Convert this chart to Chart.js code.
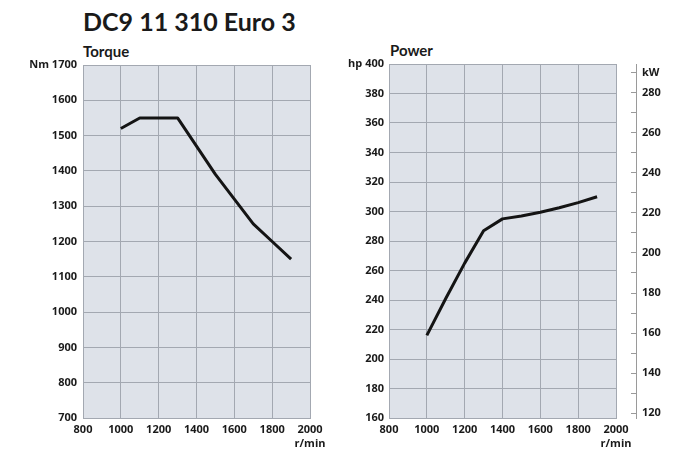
<!DOCTYPE html>
<html>
<head>
<meta charset="utf-8">
<script src="https://cdn.jsdelivr.net/npm/chart.js@4/dist/chart.umd.min.js"></script>
<style>
  html, body { margin: 0; padding: 0; background: #ffffff; }
  body { width: 679px; height: 452px; position: relative; overflow: hidden; font-family: Lato, "DejaVu Sans", sans-serif; }
  .t { position: absolute; font-weight: 700; color: #1a1a1a; line-height: 1; white-space: nowrap; }
  canvas { position: absolute; top: 0; }
</style>
</head>
<body>
<div class="t" id="mainTitle" style="left:83px; top:9px; font-size:25px;">DC9 11 310 Euro 3</div>
<div class="t" id="torqueTitle" style="left:83px; top:44px; font-size:15px;">Torque</div>
<div class="t" id="powerTitle" style="left:390px; top:43px; font-size:15px;">Power</div>
<canvas id="torque" width="340" height="452" style="left:0px;"></canvas>
<canvas id="power" width="339" height="452" style="left:340px;"></canvas>
<script>
// ---- data ----
const rpm = [1000, 1100, 1200, 1300, 1400, 1500, 1600, 1700, 1800, 1900];
const torqueNm = [1520, 1550, 1550, 1550, 1470, 1390, 1320, 1250, 1200, 1150];
const powerHp = [216, 241, 265, 287, 295, 297, 299.5, 302.5, 306, 310];

const rpmTicks = [800, 1000, 1200, 1400, 1600, 1800, 2000];
const torqueTicks = [700, 800, 900, 1000, 1100, 1200, 1300, 1400, 1500, 1600, 1700];
const hpTicks = [160, 180, 200, 220, 240, 260, 280, 300, 320, 340, 360, 380, 400];
const kwLabelTicks = [120, 140, 160, 180, 200, 220, 240, 260, 280];
const HP_TO_KW = 0.7355;

// ---- styling ----
const PLOT_BG = '#dee2e9';
const GRID = '#a3a8b1';
const TEXT = '#1a1a1a';
const LINE = '#141414';
const tickFont = { family: '"Open Sans"', size: 11, weight: 'bold', lineHeight: 1.35 };

const plotBg = {
  id: 'plotBg',
  beforeDraw(chart) {
    const { ctx, chartArea: a } = chart;
    ctx.save();
    ctx.fillStyle = PLOT_BG;
    ctx.fillRect(a.left, a.top, a.right - a.left, a.bottom - a.top);
    ctx.restore();
  }
};

function xScale() {
  return {
    type: 'linear',
    min: rpmTicks[0],
    max: rpmTicks[rpmTicks.length - 1],
    afterBuildTicks(s) { s.ticks = rpmTicks.map(v => ({ value: v })); },
    ticks: {
      color: TEXT, font: tickFont, padding: 4, maxRotation: 0, autoSkip: false,
      callback: v => v === 2000 ? ['2000', 'r/min'] : String(v)
    },
    grid: { color: GRID, lineWidth: 1, drawTicks: false },
    border: { color: GRID, width: 1 },
    afterFit(s) { s.height = 34; }
  };
}

function lineDataset(ys) {
  return {
    data: rpm.map((x, i) => ({ x, y: ys[i] })),
    borderColor: LINE,
    borderWidth: 3,
    pointRadius: 0,
    tension: 0,
    borderJoinStyle: 'round',
    fill: false
  };
}

const common = {
  responsive: false,
  animation: false,
  devicePixelRatio: 1,
  plugins: { legend: { display: false }, tooltip: { enabled: false }, title: { display: false } }
};

new Chart(document.getElementById('torque'), {
  type: 'line',
  data: { datasets: [lineDataset(torqueNm)] },
  options: Object.assign({}, common, {
    layout: { padding: { left: 0, right: 30, top: 65, bottom: 0 } },
    scales: {
      x: xScale(),
      y: {
        type: 'linear',
        min: torqueTicks[0],
        max: torqueTicks[torqueTicks.length - 1],
        afterBuildTicks(s) { s.ticks = torqueTicks.map(v => ({ value: v })); },
        ticks: {
          color: TEXT, font: tickFont, padding: 6, autoSkip: false,
          callback: v => v === 1700 ? 'Nm 1700' : String(v)
        },
        grid: { color: GRID, lineWidth: 1, drawTicks: false },
        border: { color: GRID, width: 1 },
        afterFit(s) { s.width = 83; }
      }
    }
  }),
  plugins: [plotBg]
});

new Chart(document.getElementById('power'), {
  type: 'line',
  data: { datasets: [Object.assign(lineDataset(powerHp), { yAxisID: 'y' })] },
  options: Object.assign({}, common, {
    layout: { padding: { left: 0, right: 0, top: 64, bottom: 0 } },
    scales: {
      x: xScale(),
      y: {
        type: 'linear',
        position: 'left',
        min: hpTicks[0],
        max: hpTicks[hpTicks.length - 1],
        afterBuildTicks(s) { s.ticks = hpTicks.map(v => ({ value: v })); },
        ticks: {
          color: TEXT, font: tickFont, padding: 5, autoSkip: false,
          callback: v => v === 400 ? 'hp 400' : String(v)
        },
        grid: { color: GRID, lineWidth: 1, drawTicks: false },
        border: { color: GRID, width: 1 },
        afterFit(s) { s.width = 49; }
      },
      gap: {
        type: 'linear',
        position: 'right',
        weight: 0,
        display: true,
        grid: { display: false },
        border: { display: false },
        ticks: { display: false },
        afterFit(s) { s.width = 20; }
      },
      kw: {
        type: 'linear',
        position: 'right',
        weight: 1,
        min: hpTicks[0] * HP_TO_KW,
        max: hpTicks[hpTicks.length - 1] * HP_TO_KW,
        ticks: {
          stepSize: 10, includeBounds: false, autoSkip: false,
          color: TEXT, font: tickFont, padding: 11,
          callback: v => {
            const r = Math.round(v);
            if (r === 290) return 'kW';
            return kwLabelTicks.includes(r) ? String(r) : '';
          }
        },
        grid: { drawOnChartArea: false, drawTicks: true, tickLength: -5, color: '#9a9a9a', lineWidth: 1 },
        border: { color: '#9a9a9a', width: 1 },
        afterFit(s) { s.width = 43; }
      }
    }
  }),
  plugins: [plotBg]
});
</script>
</body>
</html>
